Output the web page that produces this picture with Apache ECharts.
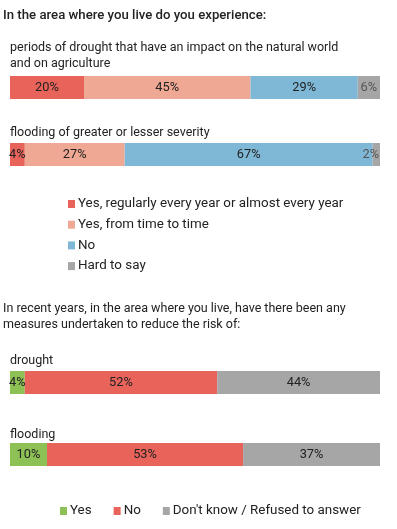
<!DOCTYPE html>
<html><head><meta charset="utf-8">
<script src="https://cdn.jsdelivr.net/npm/echarts@6/dist/echarts.min.js"></script>
<style>html,body{margin:0;padding:0;background:#fff}#c{width:397px;height:529px}</style>
</head><body><div id="c"></div>
<script>
// ---- data ----
const expCategories = ["periods of drought that have an impact on the natural world\nand on agriculture", "flooding of greater or lesser severity"];
const expSeriesNames = ["Yes, regularly every year or almost every year", "Yes, from time to time", "No", "Hard to say"];
const expRegularly = [20, 4];
const expSometimes = [45, 27];
const expNo = [29, 67];
const expHardToSay = [6, 2];

const measCategories = ["drought", "flooding"];
const measSeriesNames = ["Yes", "No", "Don't know / Refused to answer"];
const measYes = [4, 10];
const measNo = [52, 53];
const measDontKnow = [44, 37];

const title1 = "In the area where you live do you experience:";
const title2 = "In recent years, in the area where you live, have there been any\nmeasures undertaken to reduce the risk of:";

// ---- styles ----
const FONT = 'Roboto';
const C_RED = '#E8635A', C_SALMON = '#EFA893', C_BLUE = '#7FB8D7', C_GREY = '#A6A6A6', C_GREEN = '#8DC155';
const expColors = [C_RED, C_SALMON, C_BLUE, C_GREY];
const measColors = [C_GREEN, C_RED, C_GREY];
const gridTops = [76, 143, 371, 443];
const BAR_H = 23, LEFT = 10, WIDTH = 370;

const grids = gridTops.map(t => ({left: LEFT, width: WIDTH, top: t, height: BAR_H}));
const xAxes = gridTops.map((t, i) => ({type: 'value', gridIndex: i, min: 0, max: 100, show: false}));
const yAxes = gridTops.map((t, i) => ({type: 'category', gridIndex: i, data: [i < 2 ? expCategories[i] : measCategories[i - 2]], show: false}));

function mkLabel(color, pos) {
  return {show: true, position: pos || 'inside', distance: 1, formatter: p => p.value + '%', color: color, fontFamily: FONT, fontSize: 12.8};
}
const series = [];
const expData = [expRegularly, expSometimes, expNo, expHardToSay];
for (let g = 0; g < 2; g++) {
  expData.forEach((arr, s) => {
    let lc = s === 3 ? '#555' : '#222';
    let pos = 'inside';
    if (arr[g] < 4 && s === 3) pos = 'insideRight';
    series.push({type: 'bar', name: expSeriesNames[s], stack: 'a' + g, xAxisIndex: g, yAxisIndex: g,
      barWidth: '100%', data: [arr[g]], itemStyle: {color: expColors[s]}, label: mkLabel(lc, pos),
      labelLayout: {hideOverlap: false}, silent: true});
  });
}
const measData = [measYes, measNo, measDontKnow];
for (let g = 0; g < 2; g++) {
  measData.forEach((arr, s) => {
    series.push({type: 'bar', name: measSeriesNames[s], stack: 'b' + g, xAxisIndex: g + 2, yAxisIndex: g + 2,
      barWidth: '100%', data: [arr[g]], itemStyle: {color: measColors[s]}, label: mkLabel('#222'), silent: true});
  });
}

const txt = (x, y, text, size, weight, lh) => ({type: 'text', left: x, top: y,
  style: {text: text, font: (weight || 'normal') + ' ' + size + 'px ' + FONT, fill: '#222', lineHeight: lh || 16}});

const graphic = [
  txt(3, 8, title1, 13.2, '500'),
  txt(10, 40, expCategories[0], 12.5, 'normal', 16),
  txt(10, 125, expCategories[1], 12.5),
  txt(3, 301, title2, 12.5, 'normal', 16),
  txt(10, 353, measCategories[0], 12.5),
  txt(10, 427, measCategories[1], 12.5)
];

const option = {
  animation: false,
  grid: grids, xAxis: xAxes, yAxis: yAxes, series: series, graphic: graphic,
  legend: [
    {left: 63, top: 191, orient: 'vertical', itemGap: 4.7, itemWidth: 7, itemHeight: 8, icon: 'rect',
      selectedMode: false,
      textStyle: {fontFamily: FONT, fontSize: 13.4, lineHeight: 16, color: '#222', padding: [0, 0, 0, -2]},
      data: expSeriesNames.map((n, i) => ({name: n, itemStyle: {color: expColors[i]}}))},
    {left: 55, top: 498, orient: 'horizontal', itemGap: 22, itemWidth: 7, itemHeight: 8, icon: 'rect',
      selectedMode: false,
      textStyle: {fontFamily: FONT, fontSize: 13.4, lineHeight: 16, color: '#222', padding: [0, 0, 0, -2]},
      data: measSeriesNames.map((n, i) => ({name: n, itemStyle: {color: measColors[i]}}))}
  ]
};
const chart = echarts.init(document.getElementById('c'), null, {renderer: 'canvas'});
chart.setOption(option);
</script></body></html>
